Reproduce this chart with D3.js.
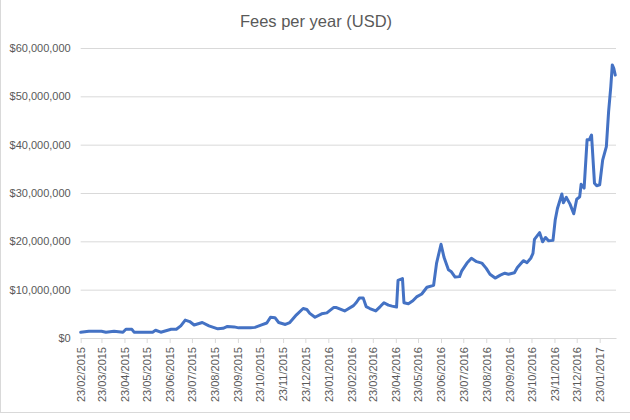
<!DOCTYPE html>
<html lang="en">
	<head>
		<meta charset="utf-8">
		<title>Fees per year (USD)</title>
		<script type="text/javascript" src="https://cdn.jsdelivr.net/npm/d3@7"></script>
		<style type="text/css">
			body { margin: 0; background: #fff; }
			text { font-family: "Liberation Sans", Arial, sans-serif; fill: #595959; }
		</style>
	</head>
	<body>
		<script type="text/javascript">

			var chartTitle = "Fees per year (USD)";

			// dates of the sampled points
			var dates = [
				"2015-02-23", "2015-03-06", "2015-03-23", "2015-03-29", "2015-04-09", "2015-04-21", "2015-04-25",
				"2015-05-03", "2015-05-06", "2015-05-31", "2015-06-04", "2015-06-11", "2015-06-25", "2015-07-02",
				"2015-07-08", "2015-07-14", "2015-07-20", "2015-07-26", "2015-08-06", "2015-08-15", "2015-08-27",
				"2015-09-03", "2015-09-09", "2015-09-18", "2015-09-24", "2015-10-10", "2015-10-16", "2015-10-25",
				"2015-11-01", "2015-11-06", "2015-11-12", "2015-11-17", "2015-11-26", "2015-12-02", "2015-12-11",
				"2015-12-20", "2015-12-25", "2015-12-29", "2016-01-05", "2016-01-14", "2016-01-21", "2016-01-30",
				"2016-02-03", "2016-02-14", "2016-02-26", "2016-03-01", "2016-03-05", "2016-03-10", "2016-03-14",
				"2016-03-19", "2016-03-27", "2016-04-02", "2016-04-07", "2016-04-13", "2016-04-18", "2016-04-24",
				"2016-04-26", "2016-05-02", "2016-05-04", "2016-05-10", "2016-05-16", "2016-05-21", "2016-05-28",
				"2016-06-04", "2016-06-13", "2016-06-17", "2016-06-23", "2016-06-27", "2016-07-03", "2016-07-07",
				"2016-07-12", "2016-07-18", "2016-07-21", "2016-07-28", "2016-08-03", "2016-08-10", "2016-08-17",
				"2016-08-23", "2016-08-28", "2016-09-04", "2016-09-11", "2016-09-17", "2016-09-22", "2016-09-30",
				"2016-10-04", "2016-10-12", "2016-10-17", "2016-10-22", "2016-10-25", "2016-10-27", "2016-11-03",
				"2016-11-07", "2016-11-11", "2016-11-15", "2016-11-21", "2016-11-24", "2016-11-27", "2016-12-03",
				"2016-12-05", "2016-12-09", "2016-12-14", "2016-12-19", "2016-12-23", "2016-12-27", "2016-12-29",
				"2017-01-02", "2017-01-06", "2017-01-09", "2017-01-12", "2017-01-16", "2017-01-19", "2017-01-23",
				"2017-01-27", "2017-02-01", "2017-02-04", "2017-02-07", "2017-02-09", "2017-02-11", "2017-02-13"
			];

			// fees per year, millions of USD
			var feesMillions = [
				1.2, 1.4, 1.4, 1.2, 1.4, 1.2, 1.8,
				1.8, 1.2, 1.2, 1.6, 1.2, 1.8, 1.8,
				2.5, 3.7, 3.4, 2.7, 3.2, 2.5, 1.9,
				2.0, 2.4, 2.3, 2.1, 2.1, 2.2, 2.7,
				3.1, 4.3, 4.2, 3.2, 2.8, 3.2, 4.8,
				6.1, 5.9, 5.1, 4.3, 5.0, 5.2, 6.3,
				6.3, 5.6, 6.7, 7.4, 8.3, 8.3, 6.5,
				6.1, 5.6, 6.5, 7.3, 6.8, 6.6, 6.4,
				11.9, 12.3, 7.3, 7.1, 7.7, 8.5, 9.1,
				10.5, 10.9, 15.5, 19.4, 16.7, 14.1, 13.7,
				12.6, 12.7, 13.9, 15.5, 16.5, 15.8, 15.5,
				14.4, 13.2, 12.4, 13.0, 13.4, 13.2, 13.5,
				14.6, 16.0, 15.6, 16.5, 17.5, 20.4, 21.8,
				19.9, 20.8, 20.1, 20.2, 24.4, 26.8, 29.8,
				28.0, 29.1, 27.7, 25.7, 28.7, 29.2, 31.8,
				31.0, 41.0, 41.0, 42.0, 32.0, 31.5, 31.7,
				36.8, 39.6, 46.8, 52.0, 56.5, 55.8, 54.4
			];

			var yTicks = [0, 10000000, 20000000, 30000000, 40000000, 50000000, 60000000];

			var xTickLabels = [
				"23/02/2015", "23/03/2015", "23/04/2015", "23/05/2015", "23/06/2015", "23/07/2015",
				"23/08/2015", "23/09/2015", "23/10/2015", "23/11/2015", "23/12/2015", "23/01/2016",
				"23/02/2016", "23/03/2016", "23/04/2016", "23/05/2016", "23/06/2016", "23/07/2016",
				"23/08/2016", "23/09/2016", "23/10/2016", "23/11/2016", "23/12/2016", "23/01/2017"
			];

			var xStart = "2015-02-23";
			var xEnd = "2017-02-14";

			//Width and height
			var w = 630;
			var h = 420;
			var plotLeft = 80.7, plotRight = 616, plotTop = 48, plotBottom = 338;

			var parseIso = d3.timeParse("%Y-%m-%d");
			var parseLabel = d3.timeParse("%d/%m/%Y");
			var formatLabel = d3.timeFormat("%d/%m/%Y");

			var dataset = dates.map(function(d, i) {
				return { date: parseIso(d), value: feesMillions[i] * 1000000 };
			});

			var xScale = d3.scaleTime()
				.domain([parseIso(xStart), parseIso(xEnd)])
				.range([plotLeft, plotRight]);

			var yScale = d3.scaleLinear()
				.domain([0, 60000000])
				.range([plotBottom, plotTop]);

			var svg = d3.select("body")
				.append("svg")
				.attr("width", w)
				.attr("height", h);

			//Chart border (only left and bottom edges are visible)
			svg.append("rect")
				.attr("x", 0.5)
				.attr("y", -10)
				.attr("width", w + 20)
				.attr("height", 422.5)
				.attr("fill", "none")
				.attr("stroke", "#d9d9d9");

			//Title
			svg.append("text")
				.attr("x", 316)
				.attr("y", 27)
				.attr("text-anchor", "middle")
				.attr("font-size", "16.5px")
				.text(chartTitle);

			//Y axis with gridlines
			var yAxis = d3.axisLeft(yScale)
				.tickValues(yTicks)
				.tickSize(-(plotRight - plotLeft))
				.tickPadding(10)
				.tickFormat(d3.format("$,.0f"));

			var gy = svg.append("g")
				.attr("class", "y axis")
				.attr("transform", "translate(" + plotLeft + ",0)")
				.call(yAxis);
			gy.select(".domain").remove();
			gy.selectAll("line").attr("stroke", "#d9d9d9");
			gy.selectAll("text").attr("font-size", "11px").attr("fill", "#595959");

			//X axis
			var xAxis = d3.axisBottom(xScale)
				.tickValues(xTickLabels.map(function(d) { return parseLabel(d); }))
				.tickSize(5)
				.tickSizeOuter(0)
				.tickFormat(formatLabel);

			var gx = svg.append("g")
				.attr("class", "x axis")
				.attr("transform", "translate(0," + plotBottom + ")")
				.call(xAxis);
			gx.select(".domain").attr("stroke", "#d9d9d9");
			gx.selectAll("line").attr("stroke", "#d9d9d9");
			gx.selectAll("text")
				.attr("font-size", "11px")
				.attr("fill", "#595959")
				.attr("transform", "rotate(-90)")
				.attr("text-anchor", "end")
				.attr("x", -9)
				.attr("y", 0)
				.attr("dy", "0.35em");

			//Line
			var line = d3.line()
				.x(function(d) { return xScale(d.date); })
				.y(function(d) { return yScale(d.value); });

			svg.append("path")
				.datum(dataset)
				.attr("d", line)
				.attr("fill", "none")
				.attr("stroke", "#4472c4")
				.attr("stroke-width", 3)
				.attr("stroke-linejoin", "round")
				.attr("stroke-linecap", "round");

		</script>
	</body>
</html>
